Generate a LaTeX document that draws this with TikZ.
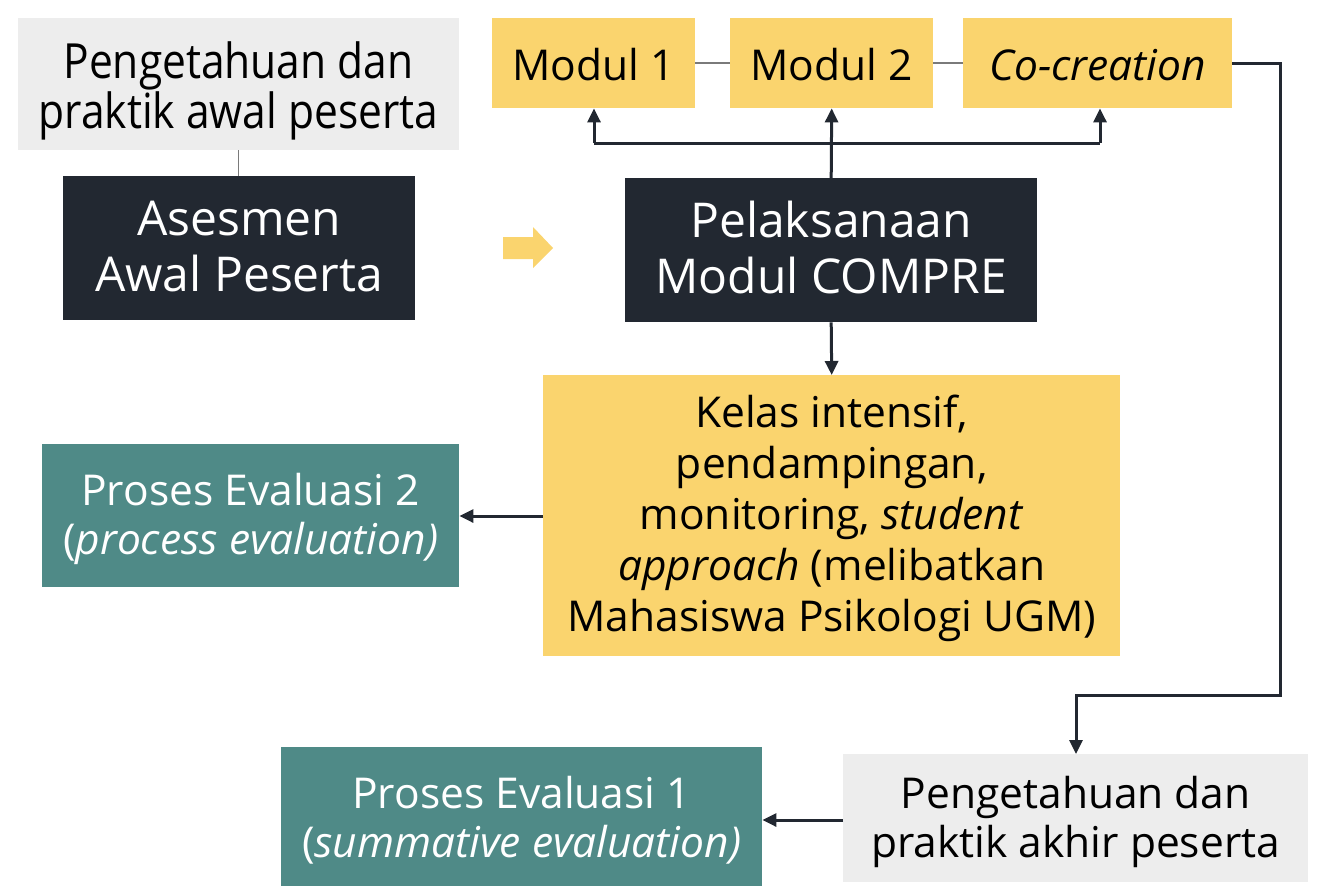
\documentclass[tikz,border=0pt]{standalone}
\usepackage{fontspec}
\setmainfont{Open Sans}
\usetikzlibrary{arrows.meta}
\definecolor{cyellow}{HTML}{FAD46E}
\definecolor{cdark}{HTML}{222831}
\definecolor{cteal}{HTML}{4F8A87}
\definecolor{cgray}{HTML}{EDEDED}
\definecolor{cline}{HTML}{7A7A7A}
\tikzset{
  box/.style={rectangle, anchor=north west, inner sep=0pt},
  graybox/.style={box, fill=cgray},
  darkbox/.style={box, fill=cdark},
  yellowbox/.style={box, fill=cyellow},
  tealbox/.style={box, fill=cteal},
  txt/.style={inner sep=0pt, anchor=base, align=center},
  graytxt/.style={txt, text=black, font=\fontsize{42.5}{49}\selectfont},
  darktxt/.style={txt, text=white, font=\fontsize{48}{56}\selectfont},
  yellowtxt/.style={txt, text=black, font=\fontsize{42.5}{51}\selectfont},
  tealtxt/.style={txt, text=white, font=\fontsize{42.5}{49}\selectfont},
  conn/.style={draw=cdark, line width=3pt, -{Triangle[length=14pt,width=13pt]}},
  plain/.style={draw=cdark, line width=3pt},
  thin/.style={draw=cline, line width=1.5pt},
}
\begin{document}
\begin{tikzpicture}[x=1pt,y=-1pt]
\useasboundingbox (0,0) rectangle (1318,886);
% boxes
\node[graybox, minimum width=441pt, minimum height=132pt] (pa) at (18,18) {};
\node[darkbox, minimum width=352pt, minimum height=144pt] (as) at (63,176) {};
\node[darkbox, minimum width=412pt, minimum height=144pt] (pm) at (625,178) {};
\node[yellowbox, minimum width=203pt, minimum height=90pt] (m1) at (492,18) {};
\node[yellowbox, minimum width=203pt, minimum height=90pt] (m2) at (730,18) {};
\node[yellowbox, minimum width=269pt, minimum height=90pt] (cc) at (963,18) {};
\node[yellowbox, minimum width=577pt, minimum height=281pt] (kl) at (543,375) {};
\node[tealbox, minimum width=417pt, minimum height=143pt] (pe2) at (42,444) {};
\node[graybox, minimum width=465pt, minimum height=128pt] (pk) at (843,754) {};
\node[tealbox, minimum width=481pt, minimum height=139pt] (pe1) at (281,747) {};
% texts (anchored at the baseline of the last line)
\begin{scope}[shift={(238.5,128)}, yscale=1.14]
\node[graytxt, transform shape, font=\fontsize{42.5}{42.1}\selectfont] (pa-t) at (0,0) {Pengetahuan dan\\praktik awal peserta};
\end{scope}
\node[darktxt] (as-t) at (as.center |- 0,291) {Asesmen\\Awal Peserta};
\node[darktxt] (pm-t) at (pm.center |- 0,293) {Pelaksanaan\\Modul COMPRE};
\node[yellowtxt] (m1-t) at (m1.center |- 0,80) {Modul 1};
\node[yellowtxt] (m2-t) at (m2.center |- 0,80) {Modul 2};
\node[yellowtxt] (cc-t) at (cc.center |- 0,80) {\itshape Co-creation};
\node[yellowtxt] (kl-t) at (kl.center |- 0,631.7) {Kelas intensif,\\pendampingan,\\monitoring, \textit{student}\\\textit{approach} (melibatkan\\Mahasiswa Psikologi UGM)};
\node[tealtxt] (pe2-t) at (pe2.center |- 0,554.5) {Proses Evaluasi 2\\(\textit{process evaluation)}};
\node[graytxt] (pk-t) at (pk.center |- 0,857) {Pengetahuan dan\\praktik akhir peserta};
\node[tealtxt] (pe1-t) at (pe1.center |- 0,857) {Proses Evaluasi 1\\(\textit{summative evaluation)}};
% yellow block arrow
\fill[cyellow] (503,237) -- (533,237) -- (533,227) -- (553,248) -- (533,268) -- (533,259) -- (503,259) -- cycle;
% thin lines
\draw[thin] (pa.south) -- (pa.south |- as.north);
\draw[thin] (m1.east) -- (m2.west);
\draw[thin] (m2.east) -- (cc.west);
% connectors
\coordinate (jl) at (594,143);
\coordinate (jr) at (1100,143);
\draw[conn] (pm.north) -- (m2.south);
\draw[plain] (jl) -- (jr);
\draw[conn] (jl) -- (jl |- m1.south);
\draw[conn] (jr) -- (jr |- cc.south);
\draw[conn] (pm.south) -- (kl.north);
\draw[conn] (kl.west |- 0,516) -- (pe2.east |- 0,516);
\coordinate (c1) at (cc.east -| 1280,0);
\coordinate (c2) at (1280,695);
\coordinate (c3) at (1076,695);
\draw[conn] (cc.east) -- (c1) -- (c2) -- (c3) -- (c3 |- pk.north);
\draw[conn] (pk.west |- 0,820) -- (pe1.east |- 0,820);
\end{tikzpicture}
\end{document}
